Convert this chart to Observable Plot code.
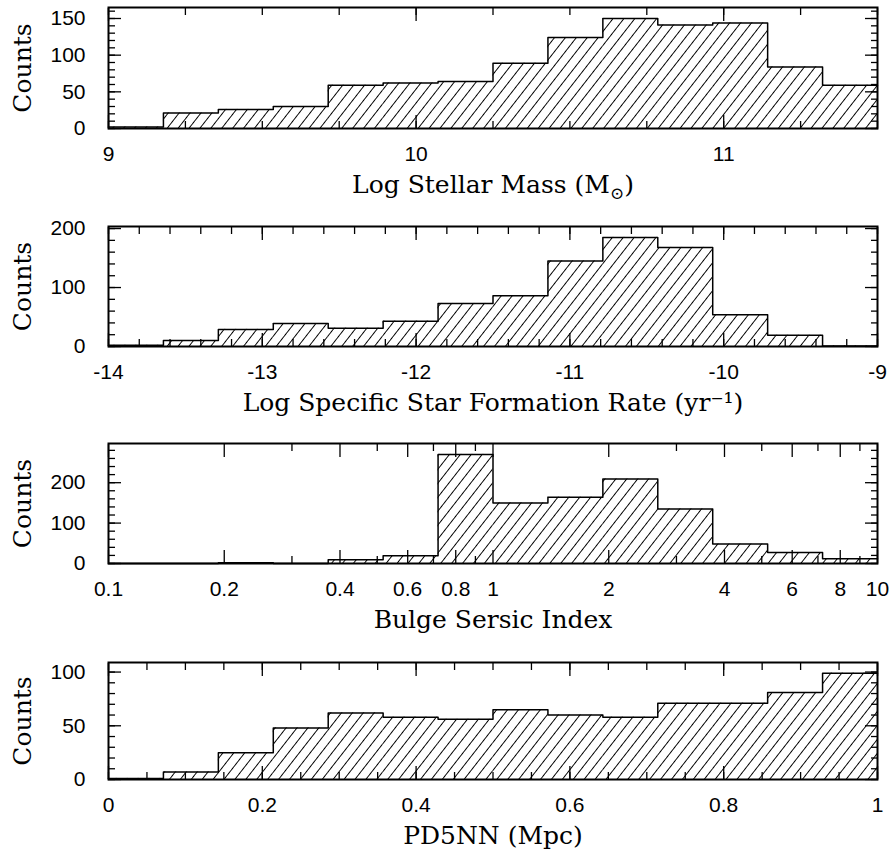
<!DOCTYPE html>
<html><head><meta charset="utf-8">
<script src="https://cdn.jsdelivr.net/npm/d3@7"></script>
<script src="https://cdn.jsdelivr.net/npm/@observablehq/plot@0.6"></script>
<style>
body{margin:0;background:#fff;}
#chart{width:891px;}
#chart svg{display:block;overflow:visible;}
</style></head><body>
<svg width="0" height="0" style="position:absolute"><defs>
<pattern id="hatch" patternUnits="userSpaceOnUse" width="8.6" height="8.6" patternTransform="rotate(38)">
<line x1="4.3" y1="-1" x2="4.3" y2="9.6" stroke="#000" stroke-width="1"/>
</pattern></defs></svg>
<div id="chart"></div>
<script>
// ---- data (14 bins per panel, counts) ----
const massRange = [9, 11.5];
const massCounts = [2, 21, 26, 30, 59, 62, 64, 89, 124, 150, 141, 144, 84, 59];
const ssfrRange = [-14, -9];
const ssfrCounts = [2, 10, 29, 39, 31, 43, 73, 86, 145, 185, 168, 54, 19, 1];
const sersicRange = [0.1, 10];
const sersicCounts = [0, 0, 2, 0, 9, 19, 270, 150, 164, 209, 135, 48, 27, 12];
const pd5nnRange = [0, 1];
const pd5nnCounts = [1, 7, 25, 48, 62, 58, 56, 65, 60, 58, 71, 71, 81, 99];

const titles = ["Log Stellar Mass (M", "Log Specific Star Formation Rate (yr\u207B\u00B9)", "Bulge Sersic Index", "PD5NN (Mpc)"];
const yTitle = "Counts";

const massXMajor = [9, 10, 11];
const ssfrXMajor = [-14, -13, -12, -11, -10, -9];
const sersicXMajor = [0.1, 0.2, 0.4, 0.6, 0.8, 1, 2, 4, 6, 8, 10];
const sersicXMinor = [0.3, 0.5, 0.7, 0.9, 3, 5, 7, 9];
const pd5nnXMajor = [0, 0.2, 0.4, 0.6, 0.8, 1];

const massYMajor = [0, 50, 100, 150];
const ssfrYMajor = [0, 100, 200];
const sersicYMajor = [0, 100, 200];
const pd5nnYMajor = [0, 50, 100];

const tickFont = "'Liberation Sans', Arial, sans-serif";
const titleFont = "'DejaVu Serif', serif";

function bins(range, counts, log) {
  const n = counts.length, [lo, hi] = range;
  const edge = i => log ? lo * Math.pow(hi / lo, i / n) : lo + (hi - lo) * i / n;
  return counts.map((c, i) => ({x1: edge(i), x2: edge(i + 1), y: c}));
}

function panel({range, counts, log, xMajor, xMinor, yMajor, yMinor, title, height, mt, mb}) {
  const b = bins(range, counts, log);
  const steps = b.map(d => ({x: d.x1, y: d.y})).concat([{x: b[b.length - 1].x2, y: b[b.length - 1].y}]);
  const yMax = d3.max(counts) * 1.1;
  const tickOpts = {text: null, label: null, strokeWidth: 1.3};
  return Plot.plot({
    width: 891, height,
    marginLeft: 108, marginRight: 14, marginTop: mt, marginBottom: mb,
    x: {type: log ? "log" : "linear", domain: range},
    y: {domain: [0, yMax]},
    style: {background: "white", color: "black", overflow: "visible"},
    marks: [
      Plot.rectY(b, {x1: "x1", x2: "x2", y1: 0, y2: "y", fill: "url(#hatch)"}),
      Plot.line(steps, {x: "x", y: "y", curve: "step-after", stroke: "black", strokeWidth: 1.5}),
      Plot.axisX(xMinor, {anchor: "bottom", tickSize: -7, ...tickOpts}),
      Plot.axisX(xMajor, {anchor: "bottom", tickSize: -13, ...tickOpts}),
      Plot.axisX(xMinor, {anchor: "top", tickSize: -7, ...tickOpts}),
      Plot.axisX(xMajor, {anchor: "top", tickSize: -13, ...tickOpts}),
      Plot.axisY(yMinor, {anchor: "left", tickSize: -7, ...tickOpts}),
      Plot.axisY(yMajor, {anchor: "left", tickSize: -13, ...tickOpts}),
      Plot.axisY(yMinor, {anchor: "right", tickSize: -7, ...tickOpts}),
      Plot.axisY(yMajor, {anchor: "right", tickSize: -13, ...tickOpts}),
      Plot.text(xMajor, {x: d => d, frameAnchor: "bottom", dy: 18, lineAnchor: "top", textAnchor: "middle", text: d => String(d), fontSize: 21, fontFamily: tickFont}),
      Plot.text(yMajor, {y: d => d, frameAnchor: "left", dx: -23, lineAnchor: "middle", textAnchor: "end", text: d => String(d), fontSize: 21, fontFamily: tickFont}),
      Plot.frame({stroke: "black", strokeWidth: 2}),
      Plot.text([yTitle], {text: d => d, frameAnchor: "left", dx: -86, rotate: -90, textAnchor: "middle", lineAnchor: "middle", fontSize: 25, fontFamily: titleFont, letterSpacing: 2}),
      Plot.text([title], {text: d => d, frameAnchor: "bottom", dy: 56, textAnchor: "middle", lineAnchor: "middle", fontSize: 25, fontFamily: titleFont, letterSpacing: 1.6})
    ]
  });
}

const charts = [
  panel({range: massRange, counts: massCounts, log: false, xMajor: massXMajor, xMinor: d3.range(9, 11.51, 0.25), yMajor: massYMajor, yMinor: d3.range(0, 161, 10), title: titles[0], height: 218, mt: 7, mb: 90}),
  panel({range: ssfrRange, counts: ssfrCounts, log: false, xMajor: ssfrXMajor, xMinor: d3.range(-14, -8.99, 0.2), yMajor: ssfrYMajor, yMinor: d3.range(0, 201, 20), title: titles[1], height: 218, mt: 8, mb: 90}),
  panel({range: sersicRange, counts: sersicCounts, log: true, xMajor: sersicXMajor, xMinor: sersicXMinor, yMajor: sersicYMajor, yMinor: d3.range(0, 281, 20), title: titles[2], height: 218, mt: 7, mb: 91}),
  panel({range: pd5nnRange, counts: pd5nnCounts, log: false, xMajor: pd5nnXMajor, xMinor: d3.range(0, 1.001, 0.05), yMajor: pd5nnYMajor, yMinor: d3.range(0, 101, 10), title: titles[3], height: 201, mt: 8, mb: 76})
];
const root = document.getElementById("chart");
charts.forEach(c => root.appendChild(c));

// subscript solar symbol in first title
d3.select(charts[0]).selectAll("text").filter(function() { return this.textContent === titles[0]; }).each(function() {
  const t = d3.select(this);
  t.append("tspan").attr("dy", 6).attr("font-size", 17).text("\u2299");
  t.append("tspan").attr("dy", -6).text(")");
});
</script>
</body></html>
